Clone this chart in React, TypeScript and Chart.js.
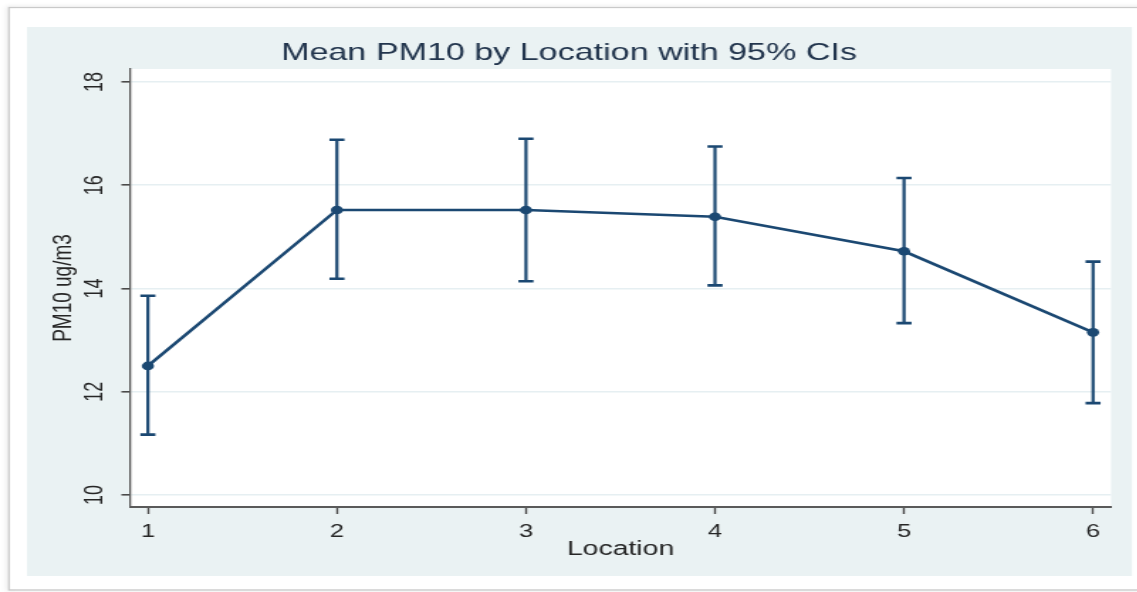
import React, { useEffect, useRef } from "react";
import { Chart, registerables } from "chart.js";

Chart.register(...registerables);

// ---- data ----
const locations = [1, 2, 3, 4, 5, 6];
const meanPM10 = [12.5, 15.52, 15.52, 15.39, 14.72, 13.15];
const ciLower = [11.17, 14.19, 14.14, 14.06, 13.33, 11.78];
const ciUpper = [13.86, 16.88, 16.9, 16.75, 16.14, 14.52];
const yTickValues = [10, 12, 14, 16, 18];
const xTickValues = [1, 2, 3, 4, 5, 6];

const TITLE = "Mean PM10 by Location with 95% CIs";
const X_TITLE = "Location";
const Y_TITLE = "PM10 ug/m3";

// ---- style ----
const STRETCH = 1.42; // the reference is horizontally stretched
const W = 801;
const H = 592;
const NAVY = "#1b4872";
const BG = "#eaf2f3";
const FONT = "'Liberation Sans', Arial, sans-serif";

const framePlugin = {
  id: "frame",
  beforeDraw(chart: any) {
    const { ctx, chartArea } = chart;
    ctx.save();
    ctx.fillStyle = "#ffffff";
    ctx.fillRect(0, 0, W, H);
    // outer frame with soft shadow
    ctx.shadowColor = "rgba(0,0,0,0.25)";
    ctx.shadowBlur = 4;
    ctx.shadowOffsetX = 0;
    ctx.shadowOffsetY = 0;
    ctx.strokeStyle = "#c9c9c9";
    ctx.lineWidth = 1.2;
    ctx.strokeRect(6.3, 7.5, W + 20, 582.5);
    ctx.shadowBlur = 0;
    ctx.shadowColor = "transparent";
    ctx.fillStyle = "#ffffff";
    ctx.fillRect(7, 8.5, W, 580.5);
    // graph region
    ctx.fillStyle = BG;
    ctx.fillRect(19, 27, 797.2 - 19, 576 - 27);
    // plot region
    ctx.fillStyle = "#ffffff";
    ctx.fillRect(
      chartArea.left,
      chartArea.top,
      chartArea.right - chartArea.left,
      chartArea.bottom - chartArea.top
    );
    ctx.restore();
  },
};

const errorBarPlugin = {
  id: "errorBars",
  beforeDatasetsDraw(chart: any) {
    const { ctx, scales } = chart;
    const xs = scales.x;
    const ys = scales.y;
    ctx.save();
    ctx.strokeStyle = NAVY;
    ctx.lineCap = "butt";
    for (let i = 0; i < locations.length; i++) {
      const x = xs.getPixelForValue(locations[i]);
      const y1 = ys.getPixelForValue(ciLower[i]);
      const y2 = ys.getPixelForValue(ciUpper[i]);
      ctx.lineWidth = 2.2;
      ctx.beginPath();
      ctx.moveTo(x, y1);
      ctx.lineTo(x, y2);
      ctx.stroke();
      ctx.lineWidth = 2.6;
      const cw = 5.3;
      ctx.beginPath();
      ctx.moveTo(x - cw, y1);
      ctx.lineTo(x + cw, y1);
      ctx.moveTo(x - cw, y2);
      ctx.lineTo(x + cw, y2);
      ctx.stroke();
    }
    ctx.restore();
  },
};

export default function App() {
  const canvasRef = useRef<HTMLCanvasElement | null>(null);

  useEffect(() => {
    const canvas = canvasRef.current;
    if (!canvas) return;
    const chart = new Chart(canvas, {
      type: "line",
      data: {
        datasets: [
          {
            label: "Mean PM10",
            data: locations.map((x, i) => ({ x, y: meanPM10[i] })),
            borderColor: NAVY,
            backgroundColor: NAVY,
            borderWidth: 2.6,
            pointRadius: 4.3,
            pointBorderWidth: 0,
            pointBackgroundColor: NAVY,
            tension: 0,
            fill: false,
          },
        ],
      },
      options: {
        animation: false,
        responsive: false,
        devicePixelRatio: 1,
        events: [],
        layout: { padding: { left: 19, right: 18.6, top: 27, bottom: 16 } },
        plugins: {
          legend: { display: false },
          tooltip: { enabled: false },
          title: {
            display: true,
            text: TITLE,
            color: "#22354d",
            font: { family: FONT, size: 24, weight: "normal", lineHeight: 1.2 },
            padding: { top: 12.4, bottom: 0.8 },
          },
        },
        scales: {
          x: {
            type: "linear",
            min: 0.905,
            max: 6.095,
            afterBuildTicks: (scale: any) => {
              scale.ticks = xTickValues.map((v) => ({ value: v }));
            },
            afterFit: (scale: any) => {
              scale.height = 69;
            },
            ticks: {
              color: "#262626",
              font: { family: FONT, size: 18, lineHeight: 1.2 },
              padding: 7,
              maxRotation: 0,
              minRotation: 0,
            },
            grid: {
              drawOnChartArea: false,
              drawTicks: true,
              tickLength: 7,
              tickColor: "#4a4a4a",
              tickWidth: 1.4,
            },
            border: { display: true, color: "#5a5a5a", width: 1.9 },
            title: {
              display: true,
              text: X_TITLE,
              color: "#262626",
              font: { family: FONT, size: 20, lineHeight: 1.2 },
              padding: { top: 0, bottom: 15 },
            },
          },
          y: {
            type: "linear",
            min: 9.767,
            max: 18.252,
            afterBuildTicks: (scale: any) => {
              scale.ticks = yTickValues.map((v) => ({ value: v }));
            },
            afterFit: (scale: any) => {
              scale.width = 72.5;
            },
            ticks: {
              color: "#262626",
              font: { family: FONT, size: 18, lineHeight: 1.2 },
              padding: 8.6,
              minRotation: 90,
              maxRotation: 90,
              crossAlign: "center",
            },
            grid: {
              color: "#e6eff2",
              lineWidth: 1.6,
              drawTicks: true,
              tickLength: 6,
              tickColor: "#4a4a4a",
              tickWidth: 1.6,
            },
            border: { display: true, color: "#5a5a5a", width: 1.3 },
            title: {
              display: true,
              text: Y_TITLE,
              color: "#262626",
              font: { family: FONT, size: 19, lineHeight: 1.2 },
              padding: { top: 14, bottom: 0 },
            },
          },
        },
      },
      plugins: [framePlugin, errorBarPlugin],
    } as any);
    return () => chart.destroy();
  }, []);

  return (
    <div
      style={{
        position: "absolute",
        left: 0,
        top: 0,
        width: W,
        height: H,
        transform: `scaleX(${STRETCH})`,
        transformOrigin: "0 0",
      }}
    >
      <canvas ref={canvasRef} width={W} height={H} style={{ display: "block" }} />
    </div>
  );
}
